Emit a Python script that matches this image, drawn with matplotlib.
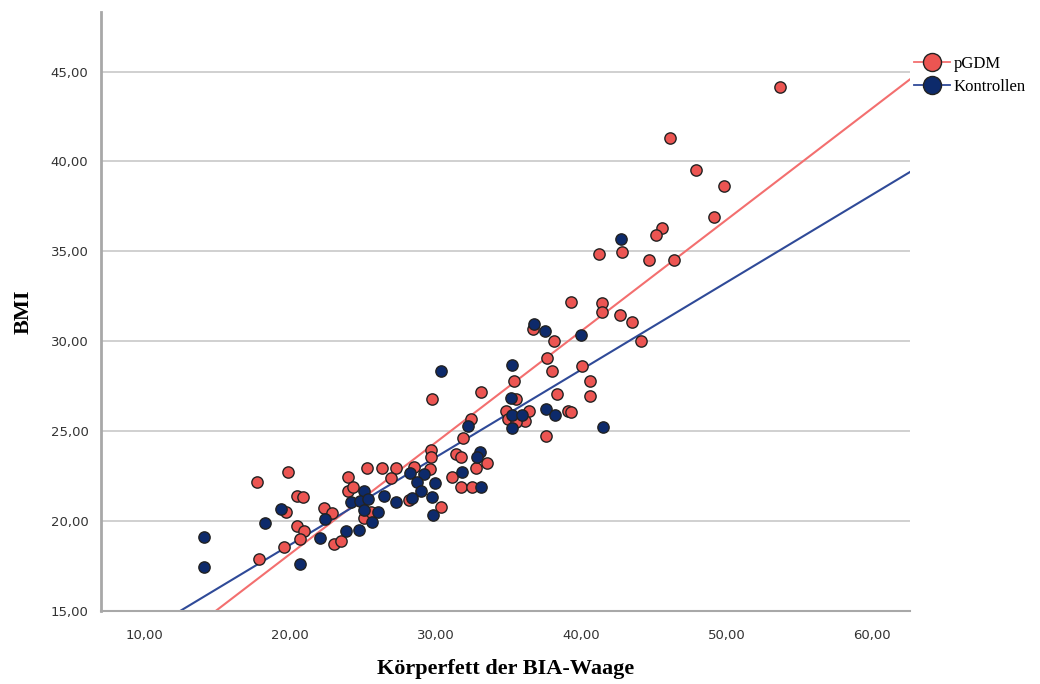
import numpy as np
import matplotlib
matplotlib.use("Agg")
import matplotlib.pyplot as plt
from matplotlib.lines import Line2D
from matplotlib.ticker import FuncFormatter

# pGDM (Körperfett %, BMI)
pgdm_fett = [53.68, 46.14, 47.89, 49.83, 49.11, 45.56, 45.17, 41.22, 42.84, 44.66,
             46.39, 39.33, 41.43, 41.43, 42.65, 43.53, 38.15, 44.13, 36.68, 37.67,
             38.01, 40.09, 35.36, 40.62, 33.13, 38.36, 40.62, 29.78, 35.52, 34.83,
             36.40, 39.10, 39.30, 34.95, 36.17, 35.50, 37.56, 32.41, 31.90, 29.71,
             29.71, 31.37, 31.72, 33.52, 29.60, 28.49, 32.75, 31.14, 31.72, 32.53,
             17.72, 19.86, 20.46, 20.92, 19.70, 17.85, 20.48, 20.95, 20.71, 19.58,
             23.02, 23.53, 22.30, 22.90, 24.01, 24.01, 24.31, 25.26, 26.35, 27.29,
             26.94, 25.05, 25.54, 28.14, 30.40]
pgdm_bmi = [44.13, 41.28, 39.54, 38.63, 36.89, 36.28, 35.93, 34.87, 34.96, 34.50,
            34.50, 32.20, 32.11, 31.60, 31.46, 31.07, 30.00, 30.00, 30.70, 29.09,
            28.33, 28.63, 27.78, 27.79, 27.17, 27.09, 26.93, 26.78, 26.78, 26.09,
            26.09, 26.10, 26.07, 25.65, 25.56, 25.52, 24.74, 25.67, 24.59, 23.94,
            23.57, 23.72, 23.57, 23.20, 22.87, 23.02, 22.93, 22.46, 21.87, 21.87,
            22.18, 22.70, 21.39, 21.35, 20.50, 17.87, 19.72, 19.44, 18.98, 18.57,
            18.72, 18.91, 20.70, 20.43, 22.46, 21.68, 21.87, 22.93, 22.93, 22.93,
            22.37, 20.18, 20.50, 21.17, 20.80]

# Kontrollen
kontr_fett = [42.75, 40.02, 36.73, 37.51, 30.40, 35.25, 35.16, 35.25, 35.94, 37.58,
              38.20, 35.25, 41.52, 32.25, 33.03, 32.87, 28.26, 29.18, 28.72, 29.02,
              31.83, 29.99, 33.15, 29.76, 28.37, 19.40, 18.29, 14.12, 14.12, 20.71,
              22.03, 23.83, 24.73, 22.38, 25.05, 24.22, 24.82, 25.33, 25.07, 25.60,
              26.07, 26.46, 27.27, 29.83]
kontr_bmi = [35.67, 30.37, 30.94, 30.57, 28.33, 28.65, 26.85, 25.89, 25.89, 26.22,
             25.89, 25.18, 25.21, 25.28, 23.82, 23.54, 22.68, 22.61, 22.18, 21.68,
             22.72, 22.09, 21.91, 21.35, 21.29, 20.65, 19.89, 19.13, 17.46, 17.63,
             19.04, 19.44, 19.50, 20.09, 21.68, 21.07, 21.13, 21.20, 20.61, 19.96,
             20.48, 21.41, 21.07, 20.33]

# Regressionsgeraden (Steigung, Achsenabschnitt)
fit_pgdm = (0.62, 5.76)
fit_kontr = (0.487, 8.93)

x_ticks = [10, 20, 30, 40, 50, 60]
y_ticks = [15, 20, 25, 30, 35, 40, 45]

RED = "#ec5552"
NAVY = "#0d2a6b"
RED_LINE = "#f36f6f"
BLUE_LINE = "#2f4a98"

fig = plt.figure(figsize=(10.4, 6.84), dpi=100)
ax = fig.add_axes([0.097, 0.107, 0.778, 0.875])

xlim = (7.0, 62.6)
ylim = (15.0, 48.3)

xs = np.array(xlim)
ax.plot(xs, fit_pgdm[0] * xs + fit_pgdm[1], color=RED_LINE, lw=1.5, zorder=2)
ax.plot(xs, fit_kontr[0] * xs + fit_kontr[1], color=BLUE_LINE, lw=1.5, zorder=2)

ax.scatter(pgdm_fett, pgdm_bmi, s=66, color=RED, edgecolor="#222222",
           linewidth=1.0, zorder=3)
ax.scatter(kontr_fett, kontr_bmi, s=66, color=NAVY, edgecolor="#222222",
           linewidth=1.0, zorder=3)

ax.set_xlim(*xlim)
ax.set_ylim(*ylim)
ax.set_xticks(x_ticks)
ax.set_yticks(y_ticks)
fmt = FuncFormatter(lambda v, p: f"{v:.2f}".replace(".", ","))
ax.xaxis.set_major_formatter(fmt)
ax.yaxis.set_major_formatter(fmt)
ax.tick_params(axis="both", labelsize=9.5, labelcolor="#333333", length=0)
ax.tick_params(axis="x", pad=13)
ax.tick_params(axis="y", pad=9)

ax.grid(axis="y", color="#c8c8c8", lw=1.2, zorder=0)
ax.set_axisbelow(True)
for s in ["top", "right"]:
    ax.spines[s].set_visible(False)
ax.spines["left"].set_color("#a8a8a8")
ax.spines["left"].set_linewidth(2)
ax.spines["bottom"].set_color("#a8a8a8")
ax.spines["bottom"].set_linewidth(1.5)

ax.set_xlabel("Körperfett der BIA-Waage", family="Liberation Serif",
              fontsize=16, fontweight="bold", labelpad=12)
ax.set_ylabel("BMI", family="Liberation Serif", fontsize=16,
              fontweight="bold", labelpad=12)

handles = [
    Line2D([0], [0], color=RED_LINE, lw=1.3, marker="o", markersize=13,
           markerfacecolor=RED, markeredgecolor="#222222"),
    Line2D([0], [0], color=BLUE_LINE, lw=1.3, marker="o", markersize=13,
           markerfacecolor=NAVY, markeredgecolor="#222222"),
]
fig.legend(handles, ["pGDM", "Kontrollen"], loc="upper left",
           bbox_to_anchor=(0.864, 0.94), frameon=False, handlelength=2.2,
           handletextpad=0.2, labelspacing=0.4,
           prop={"family": "Liberation Serif", "size": 12})

fig.savefig("out.png", dpi=100)
